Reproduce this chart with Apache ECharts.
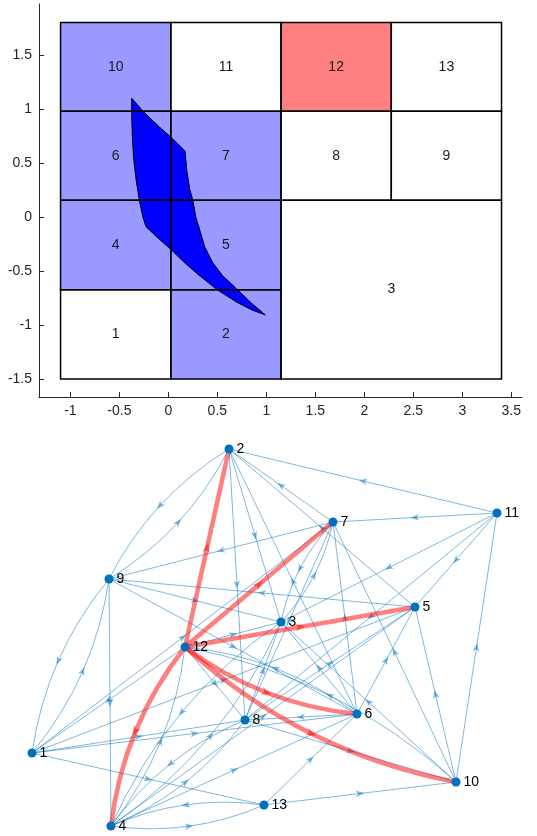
<!DOCTYPE html>
<html><head><meta charset="utf-8">
<script src="https://cdn.jsdelivr.net/npm/echarts@6/dist/echarts.min.js"></script>
<style>html,body{margin:0;padding:0;background:#fff}#c{width:537px;height:836px}</style>
</head><body><div id="c"></div>
<script>
// ---------- top panel: cell decomposition ----------
const cellIds = [1,2,3,4,5,6,7,8,9,10,11,12,13];
const cellX0 = [-1.1, 0.025, 1.15, -1.1, 0.025, -1.1, 0.025, 1.15, 2.275, -1.1, 0.025, 1.15, 2.275];
const cellX1 = [0.025, 1.15, 3.4, 0.025, 1.15, 0.025, 1.15, 2.275, 3.4, 0.025, 1.15, 2.275, 3.4];
const cellY0 = [-1.5, -1.5, -1.5, -0.675, -0.675, 0.155, 0.155, 0.155, 0.155, 0.98, 0.98, 0.98, 0.98];
const cellY1 = [-0.675, -0.675, 0.155, 0.155, 0.155, 0.98, 0.98, 0.98, 0.98, 1.8, 1.8, 1.8, 1.8];
const blueCells = [2,4,5,6,7,10];
const redCells = [12];
const polyX = [-0.374, -0.26, -0.1, 0.025, 0.17, 0.19, 0.22, 0.25, 0.28, 0.33, 0.37, 0.45, 0.55, 0.707, 0.85, 0.99,
               0.85, 0.7, 0.5, 0.3, 0.15, 0.025, -0.1, -0.228, -0.26, -0.296, -0.33, -0.355, -0.368, -0.374];
const polyY = [1.1, 0.98, 0.84, 0.74, 0.61, 0.42, 0.25, 0.155, 0.0, -0.15, -0.275, -0.42, -0.54, -0.675, -0.8, -0.907,
               -0.86, -0.79, -0.675, -0.53, -0.41, -0.3, -0.2, -0.09, 0.0, 0.155, 0.35, 0.55, 0.75, 0.95];
const xTicks = [-1,-0.5,0,0.5,1,1.5,2,2.5,3,3.5];
const yTicks = [-1.5,-1,-0.5,0,0.5,1,1.5];

// ---------- bottom panel: transition digraph ----------
const nodeNames = ['1','2','3','4','5','6','7','8','9','10','11','12','13'];
const nodeX = [32, 229, 281, 111, 415, 357, 333, 245, 109, 456, 497, 185, 264];
const nodeY = [317, 13, 186, 390, 171, 278, 86, 284, 143, 346, 77, 211, 369];
const edgeSrc = [2,9,9,1,11,7,11,11,11,11,10,7,5,9,9,9,7,3,7,6,10,2,2,6,12,1,1,1,1,1,13,4,4,8,4,3,4,4,4,6,12,8,6,6,10,10,8,13,13,6,5,8,12,10];
const edgeTgt = [9,2,1,9,2,2,7,3,5,8,11,9,9,3,6,4,3,7,8,7,7,8,3,2,1,7,5,8,6,13,4,13,8,4,3,4,5,6,12,12,8,5,8,5,5,3,10,6,10,3,2,3,3,12];
const pathSrc = [12,12,12,12,12,12];
const pathTgt = [2,7,5,6,10,4];

const X_MIN = -1.32, X_MAX = 3.609, Y_MIN = -1.667, Y_MAX = 1.972;

const chart = echarts.init(document.getElementById('c'));
const axisCol = '#262626';
const FONT = 'Liberation Sans, Arial, sans-serif';

const cellData = cellIds.map((id, i) => [cellX0[i], cellX1[i], cellY0[i], cellY1[i], id]);

function rectOf(api) {
  const p0 = api.coord([api.value(0), api.value(3)]);
  const p1 = api.coord([api.value(1), api.value(2)]);
  return {x: p0[0], y: p0[1], width: p1[0] - p0[0], height: p1[1] - p0[1]};
}

const allEdges = [];
edgeSrc.forEach((s, i) => allEdges.push({s: s, t: edgeTgt[i], red: false}));
pathSrc.forEach((s, i) => allEdges.push({s: s, t: pathTgt[i], red: true}));
function hasEdge(s, t) { return allEdges.some(e => e.s === s && e.t === t); }
const blueData = [], redData = [];
allEdges.forEach(e => {
  const curved = hasEdge(e.t, e.s) ? 1 : 0;
  const row = [nodeX[e.s-1], nodeY[e.s-1], nodeX[e.t-1], nodeY[e.t-1], curved];
  (e.red ? redData : blueData).push(row);
});

function edgeRender(color, width, arrowScale) {
  return function (params, api) {
    const p1 = api.coord([api.value(0), api.value(1)]);
    const p2 = api.coord([api.value(2), api.value(3)]);
    const curved = api.value(4);
    const dx = p2[0] - p1[0], dy = p2[1] - p1[1];
    const len = Math.sqrt(dx*dx + dy*dy);
    const k = curved ? 0.14 : 0;
    const cp = [(p1[0]+p2[0])/2 - dy*k, (p1[1]+p2[1])/2 + dx*k];
    const mid = [0.25*p1[0] + 0.5*cp[0] + 0.25*p2[0], 0.25*p1[1] + 0.5*cp[1] + 0.25*p2[1]];
    const ux = dx/len, uy = dy/len, nx = -uy, ny = ux;
    const a = arrowScale;
    const pt = (f, s) => [mid[0] + ux*f*a + nx*s*a, mid[1] + uy*f*a + ny*s*a];
    const arrow = [pt(4.5,0), pt(-4,3.2), pt(-1.8,0), pt(-4,-3.2)];
    return {
      type: 'group',
      children: [
        {type: 'bezierCurve', shape: {x1: p1[0], y1: p1[1], x2: p2[0], y2: p2[1], cpx1: cp[0], cpy1: cp[1]},
         style: {stroke: color, lineWidth: width, fill: null}},
        {type: 'polygon', shape: {points: arrow}, style: {fill: color, stroke: null}}
      ]
    };
  };
}

const option = {
  animation: false,
  backgroundColor: '#ffffff',
  grid: [
    {left: 39, top: 4, width: 483, height: 393},
    {left: 0, top: 436, width: 537, height: 400}
  ],
  xAxis: [
    {type: 'value', gridIndex: 0, min: X_MIN, max: X_MAX,
     axisLine: {show: true, onZero: false, lineStyle: {color: axisCol, width: 1}},
     axisTick: {show: true, inside: true, length: 5, customValues: xTicks, lineStyle: {color: axisCol}},
     axisLabel: {show: true, customValues: xTicks, color: axisCol, fontSize: 14, fontFamily: FONT, margin: 7},
     splitLine: {show: false}},
    {type: 'value', gridIndex: 1, min: 0, max: 537, show: false}
  ],
  yAxis: [
    {type: 'value', gridIndex: 0, min: Y_MIN, max: Y_MAX,
     axisLine: {show: true, onZero: false, lineStyle: {color: axisCol, width: 1}},
     axisTick: {show: true, inside: true, length: 5, customValues: yTicks, lineStyle: {color: axisCol}},
     axisLabel: {show: true, customValues: yTicks, color: axisCol, fontSize: 14, fontFamily: FONT, margin: 7},
     splitLine: {show: false}},
    {type: 'value', gridIndex: 1, min: 0, max: 400, inverse: true, show: false}
  ],
  series: [
    {type: 'custom', xAxisIndex: 0, yAxisIndex: 0, data: cellData, encode: {x: [0,1], y: [2,3]}, z: 1,
     renderItem: function (params, api) {
       const id = api.value(4);
       let fill = '#ffffff';
       if (blueCells.indexOf(id) >= 0) fill = '#9999ff';
       if (redCells.indexOf(id) >= 0) fill = '#ff8080';
       return {type: 'rect', shape: rectOf(api), style: {fill: fill}};
     }},
    {type: 'custom', xAxisIndex: 0, yAxisIndex: 0, data: polyX.map((x, i) => [x, polyY[i]]), z: 2,
     renderItem: function (params, api) {
       if (params.dataIndex !== 0) return null;
       const pts = polyX.map((x, i) => api.coord([x, polyY[i]]));
       return {type: 'polygon', shape: {points: pts}, style: {fill: '#0000ff', stroke: '#000000', lineWidth: 1}};
     }},
    {type: 'custom', xAxisIndex: 0, yAxisIndex: 0, data: cellData, encode: {x: [0,1], y: [2,3]}, z: 3,
     renderItem: function (params, api) {
       const r = rectOf(api);
       return {type: 'group', children: [
         {type: 'rect', shape: r, style: {fill: null, stroke: '#000000', lineWidth: 1.5}},
         {type: 'text', style: {text: String(api.value(4)), x: r.x + r.width/2, y: r.y + r.height/2,
           align: 'center', verticalAlign: 'middle', fill: '#1a1a1a', font: '14px ' + FONT}}
       ]};
     }},
    {type: 'custom', xAxisIndex: 1, yAxisIndex: 1, data: blueData, z: 4,
     renderItem: edgeRender('rgba(0,114,189,0.5)', 1, 1)},
    {type: 'custom', xAxisIndex: 1, yAxisIndex: 1, data: redData, z: 5,
     renderItem: edgeRender('rgba(255,0,0,0.5)', 4.5, 1.2)},
    {type: 'scatter', xAxisIndex: 1, yAxisIndex: 1, z: 6, symbolSize: 9,
     itemStyle: {color: '#0072bd', opacity: 1},
     data: nodeNames.map((n, i) => ({name: n, value: [nodeX[i], nodeY[i]]})),
     label: {show: true, position: 'right', distance: 3, formatter: '{b}', color: '#000000', fontSize: 14, fontFamily: FONT}}
  ]
};
chart.setOption(option);
</script></body></html>
